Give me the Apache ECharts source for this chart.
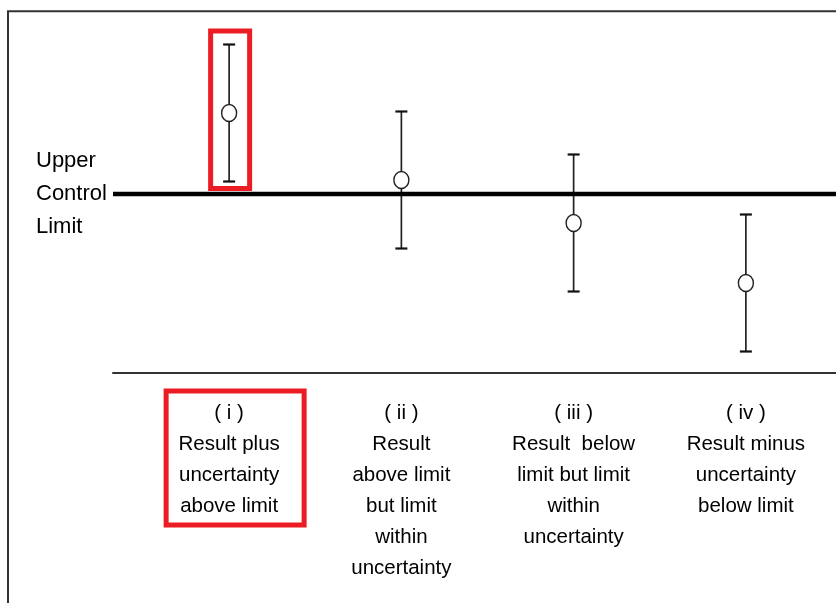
<!DOCTYPE html>
<html>
<head>
<meta charset="utf-8">
<script src="https://cdn.jsdelivr.net/npm/echarts@6/dist/echarts.min.js"></script>
<style>
html, body { margin: 0; padding: 0; background: #fff; }
#chart { width: 836px; height: 603px; }
</style>
</head>
<body>
<div id="chart"></div>
<script>
// chart data
var categories = [
    '( i )\nResult plus\nuncertainty\nabove limit',
    '( ii )\nResult\nabove limit\nbut limit\nwithin\nuncertainty',
    '( iii )\nResult  below\nlimit but limit\nwithin\nuncertainty',
    '( iv )\nResult minus\nuncertainty\nbelow limit'
];
var results = [26.0, 19.3, 15.0, 9.0];
var uncertainty = [6.85, 6.85, 6.85, 6.85];
var highlighted = [true, false, false, false];
var upperControlLimit = 17.9;
var limitLabel = 'Upper\nControl\nLimit';
var yMin = 0, yMax = 36;

var FONT = 'Arial, "Liberation Sans", sans-serif';
var RED = '#ec1c24';

var barData = categories.map(function (c, i) {
    return [i, results[i] - uncertainty[i], results[i] + uncertainty[i], highlighted[i] ? 1 : 0];
});

function renderBar(params, api) {
    var x = api.value(0);
    var lo = api.coord([x, api.value(1)]);
    var hi = api.coord([x, api.value(2)]);
    var cap = 6;
    var children = [
        { type: 'line', shape: { x1: lo[0], y1: hi[1], x2: lo[0], y2: lo[1] },
          style: { stroke: '#222', lineWidth: 1.7 } },
        { type: 'line', shape: { x1: lo[0] - cap, y1: hi[1], x2: lo[0] + cap, y2: hi[1] },
          style: { stroke: '#111', lineWidth: 2.2 } },
        { type: 'line', shape: { x1: lo[0] - cap, y1: lo[1], x2: lo[0] + cap, y2: lo[1] },
          style: { stroke: '#111', lineWidth: 2.2 } }
    ];
    if (api.value(3)) {
        // red boxes around the highlighted case and its label
        var base = api.coord([x, yMin]);
        children.push({ type: 'rect',
            shape: { x: lo[0] - 18.5, y: hi[1] - 13.5, width: 39, height: lo[1] - hi[1] + 20.5 },
            style: { fill: 'none', stroke: RED, lineWidth: 5 } });
        children.push({ type: 'rect',
            shape: { x: lo[0] - 63, y: base[1] + 18, width: 138, height: 134 },
            style: { fill: 'none', stroke: RED, lineWidth: 5 } });
    }
    return { type: 'group', children: children };
}

var myChart = echarts.init(document.getElementById('chart'));

var option = {
    animation: false,
    backgroundColor: '#fff',
    graphic: [{
        type: 'polyline',
        shape: { points: [[8, 603], [8, 11.3], [836, 11.3]] },
        style: { fill: 'none', stroke: '#333', lineWidth: 2 }
    }],
    grid: [
        { left: 113, right: 0, top: 13, bottom: 230 },
        { left: 143, right: 4, top: 13, bottom: 230 }
    ],
    xAxis: [
        {
            gridIndex: 0, type: 'value', min: 0, max: 1,
            axisLine: { show: true, lineStyle: { color: '#333', width: 2 } },
            axisTick: { show: false }, axisLabel: { show: false }, splitLine: { show: false }
        },
        {
            gridIndex: 1, type: 'category', data: categories,
            axisLine: { show: false }, axisTick: { show: false },
            axisLabel: {
                interval: 0, margin: 24.5, verticalAlign: 'top',
                fontFamily: FONT, fontSize: 20.5, lineHeight: 31, color: '#000'
            }
        }
    ],
    yAxis: [
        {
            gridIndex: 0, type: 'value', min: yMin, max: yMax,
            axisLine: { show: false }, axisTick: { show: false }, splitLine: { show: false },
            axisLabel: {
                customValues: [upperControlLimit],
                formatter: function () { return limitLabel; },
                align: 'left', margin: 77,
                fontFamily: FONT, fontSize: 22, lineHeight: 33, color: '#000'
            }
        },
        {
            gridIndex: 1, type: 'value', min: yMin, max: yMax, show: false
        }
    ],
    series: [
        {
            name: 'Upper Control Limit', type: 'line',
            xAxisIndex: 0, yAxisIndex: 0,
            data: [[0, upperControlLimit], [1, upperControlLimit]],
            symbol: 'none', silent: true,
            lineStyle: { color: '#000', width: 4.5 }
        },
        {
            name: 'Uncertainty', type: 'custom',
            xAxisIndex: 1, yAxisIndex: 1,
            data: barData, renderItem: renderBar, silent: true, z: 3
        },
        {
            name: 'Result', type: 'scatter',
            xAxisIndex: 1, yAxisIndex: 1,
            data: results, symbol: 'circle', symbolSize: [15, 17],
            itemStyle: { color: '#fff', borderColor: '#222', borderWidth: 1.5, opacity: 1 },
            silent: true, z: 4
        }
    ]
};

myChart.setOption(option);
</script>
</body>
</html>
